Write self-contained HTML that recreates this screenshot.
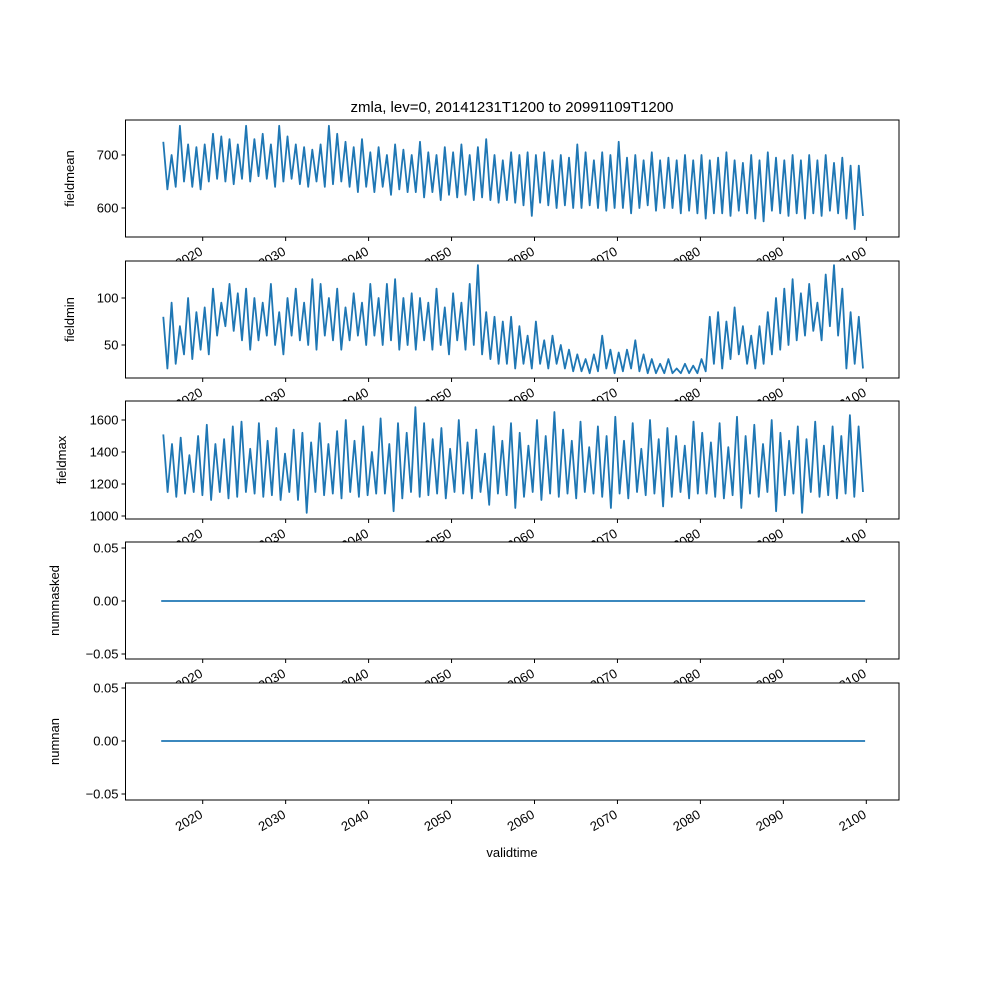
<!DOCTYPE html>
<html><head><meta charset="utf-8"><style>
body{margin:0;background:#fff}
svg{display:block;font-family:"Liberation Sans",sans-serif}
</style></head><body>
<svg id="chart" width="1000" height="1000" xmlns="http://www.w3.org/2000/svg">
<rect width="1000" height="1000" fill="#fff"/>
</svg>
<script>
const xTicks=[2020,2030,2040,2050,2060,2070,2080,2090,2100];
const startYear=2015.0;
const fieldmean=[725,635,700,640,755,650,720,640,715,635,720,650,740,655,735,650,730,645,720,655,755,650,730,660,740,655,720,640,755,650,735,655,720,645,715,640,710,650,720,640,755,645,740,650,725,640,715,630,730,640,705,630,715,640,700,625,720,635,710,630,700,630,725,620,705,630,700,615,715,625,705,620,720,625,700,615,715,620,730,615,700,610,690,615,705,610,700,605,705,585,700,610,705,605,690,600,700,605,695,600,720,600,705,605,690,600,705,595,700,600,725,600,695,590,700,600,690,605,705,595,690,600,695,600,690,590,700,595,690,590,700,580,690,590,695,590,705,585,690,595,685,590,700,580,690,575,705,595,695,590,690,585,700,590,690,580,700,590,690,585,700,595,685,590,695,580,680,560,680,585];
const fieldmin=[80,25,95,30,70,40,100,35,85,45,90,40,110,60,95,70,115,65,105,55,110,45,100,55,95,60,115,50,85,40,100,60,110,55,95,50,120,45,115,60,100,55,110,45,90,55,105,60,95,50,115,60,100,50,115,55,120,45,100,50,105,45,100,55,95,45,110,50,90,40,105,55,95,45,115,50,135,40,85,35,80,30,75,30,80,25,70,30,60,25,75,30,55,25,60,30,50,25,45,22,40,22,35,20,40,22,60,25,45,20,42,22,45,25,55,22,40,20,35,20,30,20,35,20,25,20,30,20,28,20,35,22,80,30,85,25,75,35,90,40,70,30,60,25,70,30,85,40,100,45,110,50,120,55,105,60,115,65,95,55,125,70,135,60,110,25,85,30,80,25];
const fieldmax=[1510,1150,1450,1120,1490,1140,1380,1150,1500,1130,1570,1100,1450,1150,1480,1110,1560,1120,1590,1150,1420,1140,1580,1120,1470,1130,1550,1100,1390,1150,1540,1100,1520,1020,1460,1150,1580,1130,1450,1140,1530,1110,1600,1150,1470,1120,1560,1130,1400,1140,1610,1140,1450,1030,1580,1110,1520,1150,1680,1120,1580,1130,1480,1140,1550,1110,1420,1150,1600,1140,1460,1110,1540,1150,1390,1070,1560,1140,1470,1130,1580,1050,1520,1120,1440,1150,1600,1100,1500,1140,1650,1120,1540,1140,1470,1110,1590,1150,1430,1140,1560,1120,1500,1050,1620,1140,1470,1110,1580,1150,1420,1130,1600,1140,1480,1060,1550,1120,1500,1150,1440,1110,1590,1140,1520,1140,1460,1120,1580,1110,1430,1130,1620,1050,1500,1140,1570,1120,1450,1150,1600,1030,1520,1130,1470,1140,1560,1020,1480,1150,1590,1120,1440,1130,1560,1110,1500,1140,1630,1120,1560,1150];
const nummasked=[0,0];
const numnan=[0,0];

const NS="http://www.w3.org/2000/svg";
const svg=document.getElementById('chart');
const L=125.5,R=899,x0Year=2020,x0Pix=202.7,pxPerYear=(866.3-202.7)/80;
function xs(y){return x0Pix+(y-x0Year)*pxPerYear;}
function mk(tag,attrs,parent){const e=document.createElementNS(NS,tag);for(const k in attrs)e.setAttribute(k,attrs[k]);(parent||svg).appendChild(e);return e;}

const panels=[
 {name:'fieldmean',data:fieldmean,top:120,bot:237,yt:[600,700],yl:['600','700'],v0:600,p0:208,v1:700,p1:155,labx:74},
 {name:'fieldmin',data:fieldmin,top:261,bot:378,yt:[50,100],yl:['50','100'],v0:50,p0:345,v1:100,p1:298,labx:74},
 {name:'fieldmax',data:fieldmax,top:401,bot:519,yt:[1000,1200,1400,1600],yl:['1000','1200','1400','1600'],v0:1000,p0:516,v1:1600,p1:420,labx:66},
 {name:'nummasked',data:nummasked,top:542,bot:659,yt:[-0.05,0,0.05],yl:['−0.05','0.00','0.05'],v0:-0.05,p0:654,v1:0.05,p1:548,labx:59,flat:true},
 {name:'numnan',data:numnan,top:683,bot:800,yt:[-0.05,0,0.05],yl:['−0.05','0.00','0.05'],v0:-0.05,p0:794,v1:0.05,p1:688,labx:59,flat:true}
];
const endYear=2099.85;
panels.forEach((p)=>{
 const g=mk('g',{});
 
 
 const bg=mk('rect',{x:L,y:p.top,width:R-L,height:p.bot-p.top,fill:'#fff'},g);
 
 
 const ys=v=>p.p0+(v-p.v0)*(p.p1-p.p0)/(p.v1-p.v0);
 let pts;
 if(p.flat){pts=p.data.map((v,i)=>[xs(i==0?startYear:endYear),ys(v)]);}
 else{const n=p.data.length;pts=p.data.map((v,i)=>[xs(startYear+0.25+i*(endYear-startYear-0.5)/(n-1)),ys(v)]);}
 const line=mk('polyline',{points:pts.map(q=>q[0].toFixed(1)+','+q[1].toFixed(1)).join(' '),fill:'none',stroke:'#1f77b4','stroke-width':1.8,'stroke-linejoin':'round'},g);
 
 
 mk('rect',{x:L,y:p.top,width:R-L,height:p.bot-p.top,fill:'none',stroke:'#000','stroke-width':1},g);
 p.yt.forEach((v,i)=>{const y=ys(v);
  mk('line',{x1:L-4,x2:L,y1:y,y2:y,stroke:'#000'},g);
  const t=mk('text',{x:L-7,y:y+4.5,'text-anchor':'end','font-size':13},g);t.textContent=p.yl[i];
  
  
 });
 xTicks.forEach(v=>{const x=xs(v);
  mk('line',{x1:x,x2:x,y1:p.bot,y2:p.bot+4,stroke:'#000'},g);
  const ax=x+1,ay=p.bot+17;
  const t=mk('text',{x:ax,y:ay,'text-anchor':'end','font-size':13,transform:`rotate(-30 ${ax} ${ay})`},g);t.textContent=v;
  
  
 });
 const yl=mk('text',{x:p.labx,y:(p.top+p.bot)/2,'text-anchor':'middle','font-size':13,transform:`rotate(-90 ${p.labx} ${(p.top+p.bot)/2})`},g);
 yl.textContent=p.name;
 
 
});
const title=mk('text',{x:512,y:112,'text-anchor':'middle','font-size':15});
title.textContent='zmla, lev=0, 20141231T1200 to 20991109T1200';


const xl=mk('text',{x:512,y:857,'text-anchor':'middle','font-size':13});
xl.textContent='validtime';


</script>
</body></html>
